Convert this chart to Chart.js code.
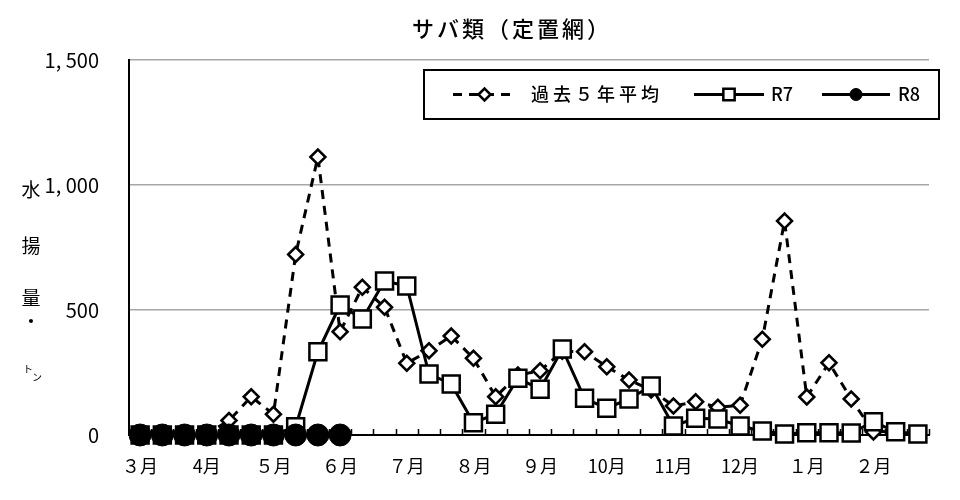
<!DOCTYPE html>
<html lang="ja">
<head>
<meta charset="UTF-8" />
<title>サバ類（定置網）</title>
<style>
  html, body { margin: 0; padding: 0; background: #fff; }
  .wrap { width: 960px; height: 500px; position: relative; }
</style>
</head>
<body>
<div class="wrap"><canvas id="chart" width="960" height="500"></canvas></div>
<script src="https://cdn.jsdelivr.net/npm/chart.js"></script>
<script>
// 旬別（上・中・下旬）36区分
const months = ['３月', '4月', '５月', '６月', '７月', '８月', '９月', '10月', '11月', '12月', '１月', '２月'];
const periods = ['上旬', '中旬', '下旬'];
const categories = months.flatMap(m => periods.map(p => m + p));

const yTicks = [0, 500, 1000, 1500];
const yTickLabels = ['0', '500', '1, 000', '1, 500'];

const avg5 = [0, 0, 0, 5, 58, 153, 83, 722, 1112, 413, 591, 511,
              287, 337, 396, 307, 153, 240, 257, 335, 333, 273, 220, 180,
              116, 133, 111, 119, 383, 856, 152, 289, 144, 12, 15, 5];
const r7 = [0, 0, 0, 0, 0, 0, 0, 33, 333, 520, 464, 616,
            596, 244, 204, 49, 83, 227, 183, 344, 147, 107, 144, 196,
            36, 67, 64, 36, 16, 4, 9, 9, 8, 53, 13, 4];
const r8 = [0, 0, 0, 0, 0, 0, 0, 0, 0, 0];

const titleText = 'サバ類（定置網）';
const yLabelChars = ['水', '揚', '量', '・'];
const legendNames = ['過去５年平均', 'R7', 'R8'];

const JP = '"Noto Sans CJK JP", "Noto Sans", sans-serif';

// タイトル・縦書き軸ラベル・目盛・凡例
const decor = {
  id: 'decor',
  beforeDatasetsDraw(chart) {
    const { ctx } = chart;
    const xs = chart.scales.x;
    const w = (xs.right - xs.left) / categories.length;
    ctx.save();
    ctx.strokeStyle = '#000';
    ctx.lineWidth = 1.5;
    ctx.beginPath();
    for (let i = 0; i <= categories.length; i++) {
      const x = Math.round(xs.left + i * w) + 0.5;
      ctx.moveTo(x, xs.top);
      ctx.lineTo(x, xs.top - 6);
    }
    ctx.stroke();
    ctx.restore();
  },
  afterDraw(chart) {
    const { ctx } = chart;
    ctx.save();
    ctx.fillStyle = '#000';
    ctx.textBaseline = 'middle';
    ctx.textAlign = 'center';

    // タイトル
    ctx.font = '500 22px ' + JP;
    if ('letterSpacing' in ctx) ctx.letterSpacing = '3px';
    ctx.fillText(titleText, 512, 29);
    if ('letterSpacing' in ctx) ctx.letterSpacing = '0px';

    // 縦書きラベル
    ctx.font = '19px ' + JP;
    const ys = [190, 246, 298, 322];
    yLabelChars.forEach((c, i) => ctx.fillText(c, 31, ys[i]));
    ctx.font = '10px ' + JP;
    ctx.fillText('ト', 28, 369);
    ctx.fillText('ン', 37, 377);

    // 凡例
    const bx = 424, by = 70, bw = 515, bh = 49, cy = by + bh / 2;
    ctx.fillStyle = '#fff';
    ctx.fillRect(bx, by, bw, bh);
    ctx.strokeStyle = '#000';
    ctx.lineWidth = 2;
    ctx.strokeRect(bx, by, bw, bh);

    const items = [
      { x0: 453, x1: 516, tx: 531 },
      { x0: 694, x1: 764, tx: 771 },
      { x0: 822, x1: 890, tx: 898 }
    ];
    chart.data.datasets.forEach((ds, i) => {
      const it = items[i];
      ctx.save();
      ctx.strokeStyle = ds.borderColor;
      ctx.lineWidth = ds.borderWidth;
      ctx.setLineDash(ds.borderDash || []);
      ctx.beginPath();
      ctx.moveTo(it.x0, cy);
      ctx.lineTo(it.x1, cy);
      ctx.stroke();
      ctx.setLineDash([]);
      ctx.fillStyle = ds.pointBackgroundColor;
      ctx.strokeStyle = ds.pointBorderColor;
      ctx.lineWidth = ds.pointBorderWidth;
      Chart.helpers.drawPoint(ctx, {
        pointStyle: ds.pointStyle,
        rotation: 0,
        radius: ds.legendRadius,
        borderWidth: ds.pointBorderWidth
      }, (it.x0 + it.x1) / 2, cy);
      ctx.restore();
      ctx.fillStyle = '#000';
      ctx.textAlign = 'left';
      ctx.font = '500 18px ' + JP;
      if ('letterSpacing' in ctx) ctx.letterSpacing = i === 0 ? '4px' : '0px';
      ctx.fillText(legendNames[i], it.tx, cy);
    });
    ctx.restore();
  }
};

new Chart(document.getElementById('chart'), {
  type: 'line',
  data: {
    labels: categories,
    datasets: [
      {
        label: legendNames[0],
        data: avg5,
        borderColor: '#000',
        borderWidth: 3,
        borderDash: [9, 7],
        pointStyle: 'rectRot',
        pointRadius: 7.5,
        legendRadius: 6,
        pointBackgroundColor: '#fff',
        pointBorderColor: '#000',
        pointBorderWidth: 2.5,
        clip: false,
        order: 3
      },
      {
        label: legendNames[1],
        data: r7,
        borderColor: '#000',
        borderWidth: 3,
        pointStyle: 'rect',
        pointRadius: 12,
        legendRadius: 8,
        pointBackgroundColor: '#fff',
        pointBorderColor: '#000',
        pointBorderWidth: 2.5,
        clip: false,
        order: 2
      },
      {
        label: legendNames[2],
        data: r8,
        borderColor: '#000',
        borderWidth: 3,
        pointStyle: 'circle',
        pointRadius: 11,
        legendRadius: 6,
        pointBackgroundColor: '#000',
        pointBorderColor: '#000',
        pointBorderWidth: 1,
        clip: false,
        order: 1
      }
    ]
  },
  options: {
    responsive: false,
    animation: false,
    devicePixelRatio: 1,
    layout: { padding: { top: 60, right: 31, bottom: 0, left: 0 } },
    plugins: {
      legend: { display: false },
      title: { display: false },
      tooltip: { enabled: false }
    },
    scales: {
      x: {
        offset: true,
        grid: { display: false, drawTicks: false, offset: true },
        border: { display: true, color: '#000', width: 2 },
        afterFit(s) { s.height = 65; },
        ticks: {
          autoSkip: false,
          maxRotation: 0,
          padding: 20,
          color: '#000',
          font: { size: 18, family: JP },
          callback: (v, i) => (i % 3 === 0 ? months[i / 3] : '')
        }
      },
      y: {
        min: 0,
        max: 1500,
        afterFit(s) { s.width = 129; },
        afterBuildTicks(s) { s.ticks = yTicks.map(v => ({ value: v })); },
        grid: {
          drawTicks: false,
          color: ctx => (ctx.tick && ctx.tick.value === 0 ? 'rgba(0,0,0,0)' : '#a6a6a6'),
          lineWidth: 1.5
        },
        border: { display: true, color: '#000', width: 2 },
        ticks: {
          padding: 30,
          color: '#000',
          font: { size: 20, family: JP },
          callback: (v, i) => yTickLabels[yTicks.indexOf(v)]
        }
      }
    }
  },
  plugins: [decor]
});
</script>
</body>
</html>
